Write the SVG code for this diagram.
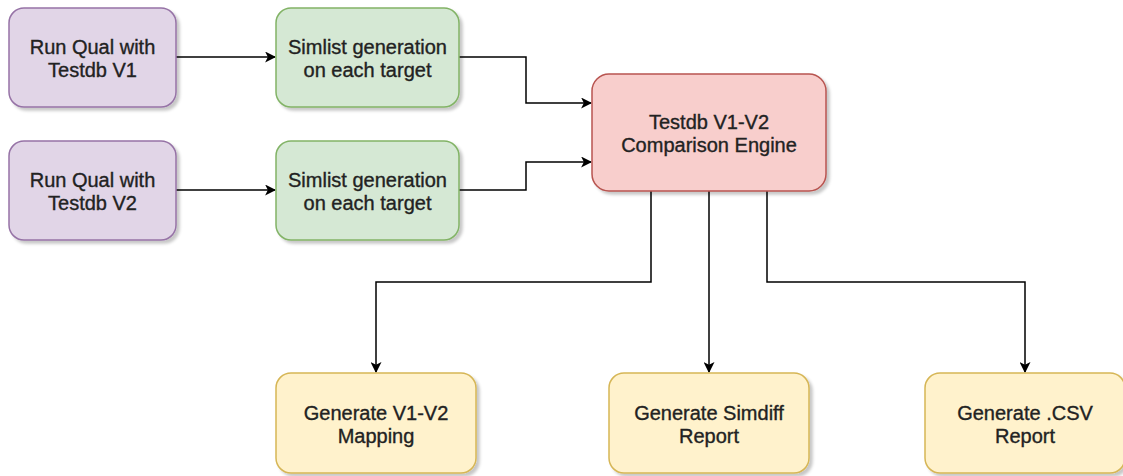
<svg xmlns="http://www.w3.org/2000/svg" width="1123" height="476" viewBox="0 0 1123 476">
  <defs>
    <filter id="sh" x="-10%" y="-10%" width="130%" height="130%">
      <feDropShadow dx="3" dy="3" stdDeviation="1.5" flood-color="#000" flood-opacity="0.22"/>
    </filter>
    <marker id="arr" viewBox="0 0 10 10" refX="9" refY="5" markerWidth="11" markerHeight="11" markerUnits="userSpaceOnUse" orient="auto">
      <path d="M0,0 L10,5 L0,10 L2.5,5 Z" fill="#000"/>
    </marker>
  </defs>
  <style>
    .box { stroke-width: 1.5; filter: url(#sh); }
    .purple { fill: #e1d5e7; stroke: #9673a6; }
    .green { fill: #d5e8d4; stroke: #82b366; }
    .red { fill: #f8cecc; stroke: #b85450; }
    .yellow { fill: #fff2cc; stroke: #d6b656; }
    .lbl { font-family: "Liberation Sans", Arial, sans-serif; font-size: 20px; fill: #222; stroke: #222; stroke-width: 0.35; text-anchor: middle; }
    .con { fill: none; stroke: #000; stroke-width: 1.5; marker-end: url(#arr); }
  </style>
  <rect width="1123" height="476" fill="#fff"/>
  <g id="connectors">
    <path class="con" d="M176,57 L275,57"/>
    <path class="con" d="M176,190 L275,190"/>
    <path class="con" d="M459,57 L526,57 L526,103 L591,103"/>
    <path class="con" d="M459,190 L526,190 L526,162 L591,162"/>
    <path class="con" d="M651,191 L651,282 L376,282 L376,372"/>
    <path class="con" d="M709,191 L709,372"/>
    <path class="con" d="M767,191 L767,282 L1025,282 L1025,372"/>
  </g>
  <g id="run-v1">
    <rect class="box purple" x="9" y="8" width="167" height="99" rx="15"/>
    <text class="lbl" x="92.5" y="54">Run Qual with</text>
    <text class="lbl" x="92.5" y="77">Testdb V1</text>
  </g>
  <g id="run-v2">
    <rect class="box purple" x="9" y="141" width="167" height="99" rx="15"/>
    <text class="lbl" x="92.5" y="187">Run Qual with</text>
    <text class="lbl" x="92.5" y="210">Testdb V2</text>
  </g>
  <g id="simlist-1">
    <rect class="box green" x="276" y="8" width="183" height="99" rx="15"/>
    <text class="lbl" x="367.5" y="54">Simlist generation</text>
    <text class="lbl" x="367.5" y="77">on each target</text>
  </g>
  <g id="simlist-2">
    <rect class="box green" x="276" y="141" width="183" height="99" rx="15"/>
    <text class="lbl" x="367.5" y="187">Simlist generation</text>
    <text class="lbl" x="367.5" y="210">on each target</text>
  </g>
  <g id="engine">
    <rect class="box red" x="592" y="74" width="234" height="117" rx="17"/>
    <text class="lbl" x="709" y="129">Testdb V1-V2</text>
    <text class="lbl" x="709" y="152">Comparison Engine</text>
  </g>
  <g id="mapping">
    <rect class="box yellow" x="276" y="373" width="200" height="100" rx="15"/>
    <text class="lbl" x="376" y="420">Generate V1-V2</text>
    <text class="lbl" x="376" y="443">Mapping</text>
  </g>
  <g id="simdiff">
    <rect class="box yellow" x="609" y="373" width="200" height="100" rx="15"/>
    <text class="lbl" x="709" y="420">Generate Simdiff</text>
    <text class="lbl" x="709" y="443">Report</text>
  </g>
  <g id="csv">
    <rect class="box yellow" x="925" y="373" width="200" height="100" rx="15"/>
    <text class="lbl" x="1025" y="420">Generate .CSV</text>
    <text class="lbl" x="1025" y="443">Report</text>
  </g>
</svg>
